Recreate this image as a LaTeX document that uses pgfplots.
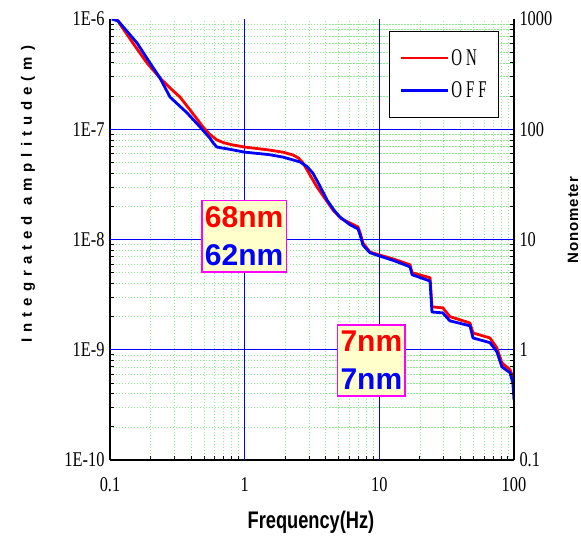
\documentclass[border=0pt]{standalone}
\usepackage{fontspec}
\usepackage{pgfplots}
\pgfplotsset{compat=1.18}
\setmainfont{Liberation Sans}
\newfontfamily\tickfont[FakeStretch=0.78]{Liberation Serif}
\newfontfamily\legfont[FakeStretch=0.62]{Liberation Serif}
\newfontfamily\labfont[LetterSpace=40]{Liberation Sans}
\newfontfamily\rlabfont[LetterSpace=6]{Liberation Sans}
\newfontfamily\xlabfont[FakeStretch=0.76]{Liberation Sans}
\definecolor{mgrid}{RGB}{140,235,140}
\definecolor{boxfill}{RGB}{255,255,204}
\definecolor{boxline}{RGB}{255,0,255}

\pgfplotstableread{
f A
0.105 1e-6
0.113 9.8e-7
0.148 6.05e-7
0.188 4.0e-7
0.235 2.92e-7
0.279 2.37e-7
0.331 1.96e-7
0.393 1.5e-7
0.466 1.14e-7
0.49 1.05e-7
0.55 9.0e-8
0.622 8.0e-8
0.7 7.55e-8
0.819 7.2e-8
1.0 6.9e-8
1.5 6.5e-8
1.92 6.2e-8
2.28 5.85e-8
2.5 5.5e-8
2.71 4.95e-8
3.0 4.0e-8
3.44 3.0e-8
4.0 2.3e-8
4.53 1.85e-8
5.2 1.55e-8
6.06 1.41e-8
6.94 1.3e-8
7.2 1.15e-8
7.56 9.3e-9
8.51 7.7e-9
10 7.25e-9
13 6.6e-9
16.9 5.9e-9
17.5 5.0e-9
23.8 4.5e-9
24.6 2.45e-9
29.6 2.4e-9
33.4 2.0e-9
47.1 1.75e-9
49.6 1.42e-9
66.3 1.28e-9
74.6 1.04e-9
81.3 7.6e-10
93.3 6.6e-10
98.1 5.7e-10
100 5.2e-10
}\ondata

\pgfplotstableread{
f A
0.103 1e-6
0.115 9.6e-7
0.159 6.05e-7
0.198 4.0e-7
0.235 2.92e-7
0.279 1.96e-7
0.373 1.41e-7
0.466 1.05e-7
0.552 8.3e-8
0.59 7.4e-8
0.622 6.9e-8
0.819 6.5e-8
1.0 6.2e-8
1.5 5.9e-8
1.92 5.6e-8
2.57 5.06e-8
2.9 4.6e-8
3.21 4.0e-8
3.6 3.1e-8
4.08 2.29e-8
4.6 1.85e-8
5.1 1.6e-8
6.06 1.36e-8
6.94 1.25e-8
7.2 1.1e-8
7.56 8.9e-9
8.51 7.6e-9
10 7.1e-9
13 6.4e-9
16.9 5.65e-9
17.5 4.8e-9
23.8 4.2e-9
24.6 2.2e-9
29.6 2.16e-9
33.4 1.83e-9
47.1 1.65e-9
49.6 1.28e-9
66.3 1.16e-9
74.6 9.6e-10
81.3 7.0e-10
93.3 6.2e-10
98.1 5.0e-10
100 3.5e-10
}\offdata

\begin{document}
\begin{tikzpicture}
\begin{axis}[
  at={(0pt,0pt)}, anchor=south west,
  scale only axis, width=404pt, height=441pt,
  clip mode=individual,
  xmode=log, ymode=log,
  xmin=0.1, xmax=100, ymin=1e-10, ymax=1e-6,
  axis x line*=bottom, axis y line*=left,
  axis line style={-, line width=1.5pt, black},
  /pgf/number format/assume math mode=true,
  xtick={0.1,1,10,100}, xticklabels={0.1,1,10,100},
  minor xtick={0.2,0.3,0.4,0.5,0.6,0.7,0.8,0.9,2,3,4,5,6,7,8,9,20,30,40,50,60,70,80,90},
  ytick={1e-10,1e-9,1e-8,1e-7,1e-6}, yticklabels={1E-10,1E-9,1E-8,1E-7,1E-6},
  minor ytick={2e-10,3e-10,4e-10,5e-10,6e-10,7e-10,8e-10,9e-10,
    2e-9,3e-9,4e-9,5e-9,6e-9,7e-9,8e-9,9e-9,
    2e-8,3e-8,4e-8,5e-8,6e-8,7e-8,8e-8,9e-8,
    2e-7,3e-7,4e-7,5e-7,6e-7,7e-7,8e-7,9e-7},
  tick align=inside, major tick length=6pt, minor tick length=4pt,
  tick style={black, line width=0.8pt},
  major tick style={draw=none},
  ticklabel style={font=\tickfont\fontsize{21}{21}\selectfont},
  xticklabel style={yshift=-14pt},
  yticklabel style={xshift=-2pt},
  xmajorgrids=false, ymajorgrids=false, xminorgrids=true, yminorgrids=true,
  minor x grid style={draw=mgrid, line width=0.6pt, dash pattern=on 1.5pt off 1.5pt},
  minor y grid style={draw=mgrid, line width=0.6pt, dash pattern=on 1.5pt off 1.5pt},
  xlabel={Frequency(Hz)},
  xlabel style={at={(axis description cs:0.4975,-0.1406)}, anchor=center, font=\xlabfont\bfseries\fontsize{24}{24}\selectfont},
  ylabel={Integrated amplitude(m)},
  ylabel style={at={(axis description cs:-0.203,0.603)}, anchor=center, font=\labfont\bfseries\fontsize{15}{15}\selectfont},
  legend style={at={(axis description cs:0.963,0.973)}, anchor=north east,
    draw=black, line width=0.8pt, fill=white,
    font=\legfont\fontsize{24}{24}\selectfont,
    inner xsep=10pt, inner ysep=16pt, row sep=11pt},
  legend cell align=left,
  legend image code/.code={\draw[#1, line width=2.8pt] (0pt,0pt) -- (47pt,0pt);},
]
% major grid lines (blue)
\addplot[blue, line width=0.8pt, forget plot] coordinates {(1,1e-10) (1,1e-6)};
\addplot[blue, line width=0.8pt, forget plot] coordinates {(10,1e-10) (10,1e-6)};
\addplot[blue, line width=0.8pt, forget plot] coordinates {(0.1,1e-9) (100,1e-9)};
\addplot[blue, line width=0.8pt, forget plot] coordinates {(0.1,1e-8) (100,1e-8)};
\addplot[blue, line width=0.8pt, forget plot] coordinates {(0.1,1e-7) (100,1e-7)};
\addplot[red, line width=2.8pt, line join=round] table[x=f, y=A] {\ondata};
\addlegendentry{O\kern4pt N}
\addplot[blue, line width=2.8pt, line join=round] table[x=f, y=A] {\offdata};
\addlegendentry{O\kern4pt F\kern4pt F}
\node[draw=boxline, line width=1.5pt, fill=boxfill, align=left, inner xsep=3pt, inner ysep=6pt,
  font=\bfseries\fontsize{30}{38}\selectfont] at (axis cs:0.99,1.07e-8)
  {\textcolor{red}{68nm}\\\textcolor{blue}{62nm}};
\node[draw=boxline, line width=1.5pt, fill=boxfill, align=left, inner xsep=3pt, inner ysep=6pt,
  font=\bfseries\fontsize{30}{38}\selectfont] at (axis cs:8.73,8.0e-10)
  {\textcolor{red}{7nm}\\\textcolor{blue}{7nm}};
\node[rotate=90, font=\rlabfont\bfseries\fontsize{15}{15}\selectfont] at (axis description cs:1.146,0.544) {Nonometer};
\end{axis}
\begin{axis}[
  at={(0pt,0pt)}, anchor=south west,
  scale only axis, width=404pt, height=441pt,
  ymode=log, ymin=0.1, ymax=1000, xmin=0, xmax=1,
  axis x line=none, axis y line*=right,
  axis line style={-, line width=1.5pt, black},
  /pgf/number format/assume math mode=true,
  ytick={0.1,1,10,100,1000}, yticklabels={0.1,1,10,100,1000},
  minor ytick={0.2,0.3,0.4,0.5,0.6,0.7,0.8,0.9,2,3,4,5,6,7,8,9,20,30,40,50,60,70,80,90,200,300,400,500,600,700,800,900},
  tick align=inside, major tick length=6pt, minor tick length=4pt,
  tick style={black, line width=0.8pt},
  major tick style={draw=none},
  ticklabel style={font=\tickfont\fontsize{21}{21}\selectfont},
  yticklabel style={xshift=2pt},
]
\end{axis}
\pgfresetboundingbox
\path[use as bounding box] (-110pt,-76pt) rectangle (471pt,460pt);
\end{tikzpicture}
\end{document}
